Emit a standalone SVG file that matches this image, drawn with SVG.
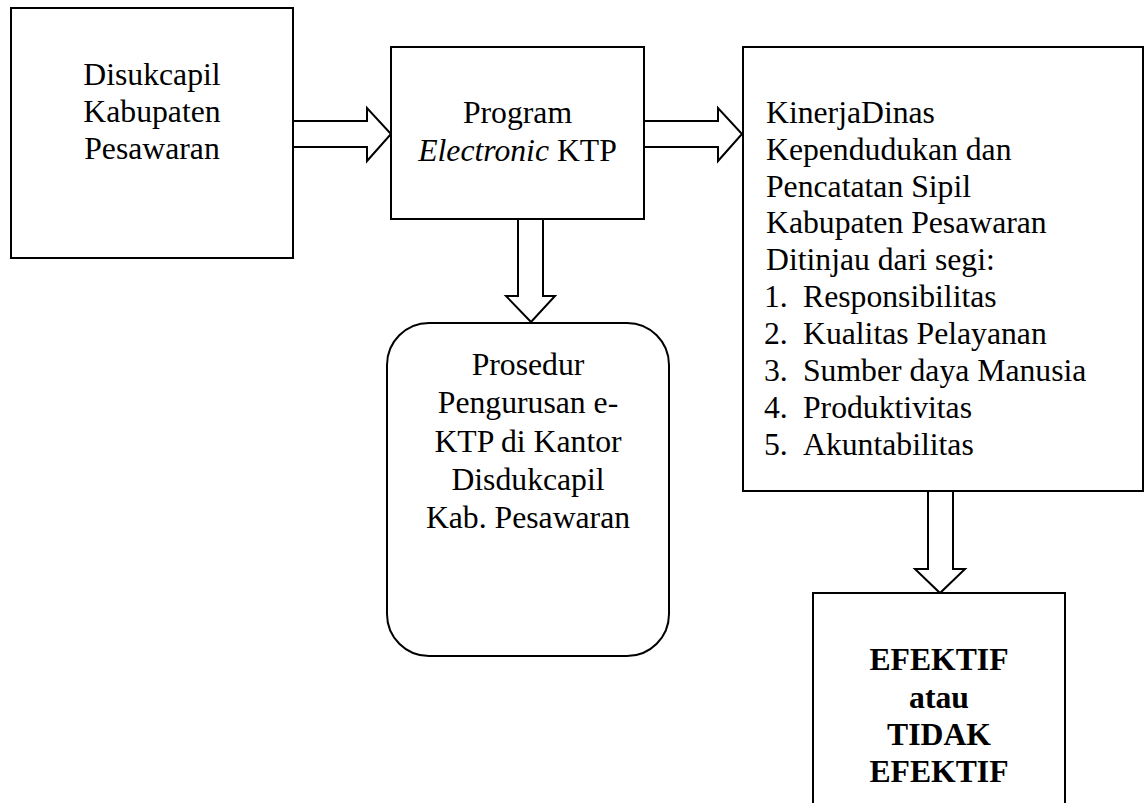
<svg xmlns="http://www.w3.org/2000/svg" width="1145" height="803" viewBox="0 0 1145 803">
<style>
.box{fill:#fff;stroke:#000;stroke-width:2}
.arr{fill:#fff;stroke:#000;stroke-width:2;stroke-linejoin:miter}
text{font-family:'Liberation Serif','Times New Roman','DejaVu Serif',serif;font-size:31.7px;fill:#000}
.c{text-anchor:middle}
.b{font-weight:bold}
</style>
<rect width="1145" height="803" fill="#fff"/>
<g id="connectors">
<path class="arr" d="M293,121 H367 V108 L391,134 L367,161 V147 H293"/>
<path class="arr" d="M644,121 H718 V108 L742,134 L718,161 V147 H644"/>
<path class="arr" d="M518,219 V296 H506 L531,322 L555,296 H543 V219"/>
<path class="arr" d="M928,491 V569 H915 L940,593 L965,569 H953 V491"/>
</g>
<g id="node-disukcapil" font-family="Liberation Serif, serif">
<rect class="box" x="11" y="8" width="282" height="250"/>
<text class="c" x="152" y="85" font-family="Liberation Serif">Disukcapil</text>
<text class="c" x="152" y="122">Kabupaten</text>
<text class="c" x="152" y="159">Pesawaran</text>
</g>
<g id="node-program">
<rect class="box" x="391" y="47" width="253" height="172"/>
<text class="c" x="517.5" y="123">Program</text>
<text class="c" x="517.5" y="161"><tspan font-style="italic">Electronic</tspan> KTP</text>
</g>
<g id="node-kinerja">
<rect class="box" x="743" y="47" width="400" height="444"/>
<text x="766" y="123">KinerjaDinas</text>
<text x="766" y="160">Kependudukan dan</text>
<text x="766" y="197">Pencatatan Sipil</text>
<text x="766" y="233">Kabupaten Pesawaran</text>
<text x="766" y="270">Ditinjau dari segi:</text>
<text x="764" y="307">1.</text><text x="803" y="307">Responsibilitas</text>
<text x="764" y="344">2.</text><text x="803" y="344">Kualitas Pelayanan</text>
<text x="764" y="381">3.</text><text x="803" y="381">Sumber daya Manusia</text>
<text x="764" y="418">4.</text><text x="803" y="418">Produktivitas</text>
<text x="764" y="455">5.</text><text x="803" y="455">Akuntabilitas</text>
</g>
<g id="node-prosedur">
<rect class="box" x="387" y="323" width="282" height="333" rx="42" ry="42"/>
<text class="c" x="528" y="375">Prosedur</text>
<text class="c" x="528" y="413">Pengurusan e-</text>
<text class="c" x="528" y="452">KTP di Kantor</text>
<text class="c" x="528" y="490">Disdukcapil</text>
<text class="c" x="528" y="528">Kab. Pesawaran</text>
</g>
<g id="node-efektif">
<rect class="box" x="813" y="593" width="252" height="240"/>
<text class="c b" x="939" y="670">EFEKTIF</text>
<text class="c b" x="939" y="708">atau</text>
<text class="c b" x="939" y="745">TIDAK</text>
<text class="c b" x="939" y="782">EFEKTIF</text>
</g>
</svg>
